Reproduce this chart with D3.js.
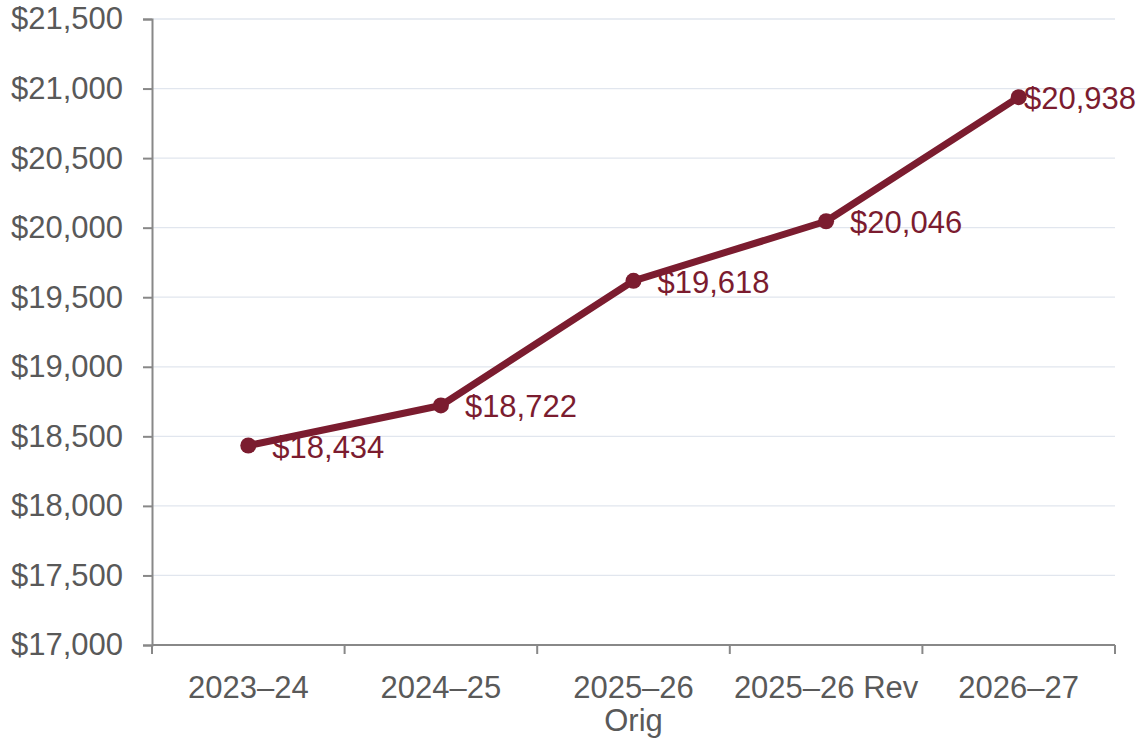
<!DOCTYPE html>
<html>
<head>
<meta charset="utf-8">
<script src="https://cdn.jsdelivr.net/npm/d3@7"></script>
<style>
  body { margin: 0; background: #fff; }
  text { font-family: "Liberation Sans", Arial, sans-serif; }
</style>
</head>
<body>
<svg id="chart"></svg>
<script>
let categories = [["2023–24"], ["2024–25"], ["2025–26", "Orig"], ["2025–26 Rev"], ["2026–27"]]
let values = [18434, 18722, 19618, 20046, 20938]
let yTicks = [17000, 17500, 18000, 18500, 19000, 19500, 20000, 20500, 21000, 21500]

let width = 1138
let height = 741
let margin = {top: 19, right: 23, bottom: 96, left: 152}

let svg = d3.select("#chart")
  .attr("width", width)
  .attr("height", height)

let xScale = d3.scaleBand()
  .domain(d3.range(categories.length))
  .range([margin.left, width - margin.right])

let yScale = d3.scaleLinear()
  .domain([17000, 21500])
  .range([height - margin.bottom, margin.top])

// gridlines
svg.append("g")
  .selectAll("line")
  .data(yTicks.slice(1))
  .enter()
  .append("line")
  .attr("x1", margin.left)
  .attr("x2", width - margin.right)
  .attr("y1", d => yScale(d))
  .attr("y2", d => yScale(d))
  .attr("stroke", "#e1e6ee")
  .attr("stroke-width", 1.3)

// y axis
let yAxis = d3.axisLeft(yScale)
  .tickValues(yTicks)
  .tickSize(9)
  .tickPadding(20)
  .tickFormat(d => "$" + d3.format(",")(d))

let gy = svg.append("g")
  .attr("transform", "translate(" + margin.left + ",0)")
  .call(yAxis)
gy.select(".domain").attr("stroke", "#888").attr("stroke-width", 2)
gy.selectAll(".tick line").attr("stroke", "#888").attr("stroke-width", 2)
gy.selectAll(".tick text")
  .attr("fill", "#595959")
  .style("font-size", "31px")
  .style("font-family", "Liberation Sans, Arial, sans-serif")

// x axis: ticks on band boundaries
let bounds = d3.range(categories.length + 1).map(i => margin.left + i * xScale.bandwidth())
let gx = svg.append("g")
gx.append("line")
  .attr("x1", margin.left)
  .attr("x2", width - margin.right)
  .attr("y1", height - margin.bottom)
  .attr("y2", height - margin.bottom)
  .attr("stroke", "#888")
  .attr("stroke-width", 2)
gx.selectAll(".xt")
  .data(bounds)
  .enter()
  .append("line")
  .attr("class", "xt")
  .attr("x1", d => d)
  .attr("x2", d => d)
  .attr("y1", height - margin.bottom)
  .attr("y2", height - margin.bottom + 9)
  .attr("stroke", "#888")
  .attr("stroke-width", 2)

let xLabels = gx.selectAll(".xl")
  .data(categories)
  .enter()
  .append("text")
  .attr("class", "xl")
  .attr("text-anchor", "middle")
  .attr("fill", "#595959")
  .style("font-size", "31px")
xLabels.each(function(lines, i) {
  let t = d3.select(this)
  lines.forEach((ln, j) => {
    t.append("tspan")
      .attr("x", xScale(i) + xScale.bandwidth() / 2)
      .attr("y", height - margin.bottom + 53 + j * 33)
      .text(ln)
  })
})

// line
let cx = i => xScale(i) + xScale.bandwidth() / 2
let line = d3.line()
  .x((d, i) => cx(i))
  .y(d => yScale(d))

svg.append("path")
  .datum(values)
  .attr("d", line)
  .attr("fill", "none")
  .attr("stroke", "#7b1c2f")
  .attr("stroke-width", 7)
  .attr("stroke-linejoin", "round")

svg.selectAll(".dot")
  .data(values)
  .enter()
  .append("circle")
  .attr("class", "dot")
  .attr("cx", (d, i) => cx(i))
  .attr("cy", d => yScale(d))
  .attr("r", 8)
  .attr("fill", "#7b1c2f")

// data labels
svg.selectAll(".lbl")
  .data(values)
  .enter()
  .append("text")
  .attr("class", "lbl")
  .attr("fill", "#7b1c2f")
  .style("font-size", "31px")
  .attr("y", d => yScale(d) + 12)
  .text(d => "$" + d3.format(",")(d))
  .attr("x", function(d, i) {
    let w = this.getComputedTextLength()
    let x = cx(i) + 24
    if (x + w > width - 2) x = width - 2 - w
    return x
  })
</script>
</body>
</html>
